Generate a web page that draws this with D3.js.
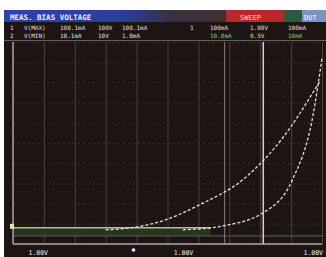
<!DOCTYPE html>
<html>
<head>
<meta charset="utf-8">
<script src="https://cdn.jsdelivr.net/npm/d3@7"></script>
<style>
  body { margin: 0; background: #fff; }
  svg { display: block; font-family: "DejaVu Sans Mono", monospace; }
</style>
</head>
<body>
<div id="chart"></div>
<script>
// curve data (volts vs mA)
const curveA_v = [3.0, 3.8, 4.85, 6.05, 7.45, 8.65, 9.95];
const curveA_i = [7.0, 8.0, 11.5, 19.5, 32, 51, 81];
const curveB_v = [5.5, 6.8, 8.1, 9.05, 9.7, 10.0];
const curveB_i = [7.0, 9.0, 15.5, 32, 63, 92];
const bandV = [0, 6.4];
const bandI = [4, 8];
const cursorV = [6.85, 8.1];
const xTickLabels = ["1.00V", "1.00V", "1.00V"];
const xTickPos = [0.5, 5.2, 9.4];
const headerRow1 = ["1", "V(MAX)", "100.1mA", "100V", "100.1mA"];
const headerRow2 = ["2", "V(MIN)", "10.1mA", "10V", "1.0mA"];
const headerRight1 = ["1", "100mA", "1.00V", "100mA"];
const headerRight2 = ["", "10.0mA", "0.5V", "10mA"];

const width = 326, height = 257;
const margin = { top: 42, right: 4, bottom: 13, left: 13 };

const svg = d3.select("#chart").append("svg")
  .attr("width", width).attr("height", height);

// screen
svg.append("rect").attr("x", 4).attr("y", 10).attr("width", 322).attr("height", 247)
  .attr("fill", "#1d1513");

// title bar
const defs = svg.append("defs");
const g1 = defs.append("linearGradient").attr("id", "tb");
g1.append("stop").attr("offset", "0%").attr("stop-color", "#2c44a8");
g1.append("stop").attr("offset", "55%").attr("stop-color", "#2a3d96");
g1.append("stop").attr("offset", "75%").attr("stop-color", "#3a3040");
g1.append("stop").attr("offset", "100%").attr("stop-color", "#403030");
svg.append("rect").attr("x", 4).attr("y", 10).attr("width", 222).attr("height", 12).attr("fill", "url(#tb)");
svg.append("rect").attr("x", 226).attr("y", 10).attr("width", 58).attr("height", 12).attr("fill", "#b82828");
svg.append("rect").attr("x", 284).attr("y", 10).attr("width", 18).attr("height", 12).attr("fill", "#2c5a3c");
svg.append("rect").attr("x", 302).attr("y", 10).attr("width", 24).attr("height", 12).attr("fill", "#8090c0");
svg.append("text").attr("x", 10).attr("y", 19.5).attr("fill", "#e8ecff")
  .attr("font-size", 7.5).attr("font-weight", "bold").text("MEAS. BIAS VOLTAGE");
svg.append("text").attr("x", 240).attr("y", 19.5).attr("fill", "#ffd0d0")
  .attr("font-size", 7).text("SWEEP");
svg.append("text").attr("x", 304).attr("y", 19.5).attr("fill", "#fff")
  .attr("font-size", 7).text("DUT");

// readout rows
const rowX = [10, 24, 60, 98, 122];
[headerRow1, headerRow2].forEach((row, r) => {
  row.forEach((t, k) => svg.append("text").attr("x", rowX[k]).attr("y", 30 + r * 8)
    .attr("fill", "#e0e0e0").attr("font-size", 6).text(t));
});
const rowXR = [190, 210, 250, 288];
const colR = ["#d0d0d0", "#7fd08a", "#e8e060", "#7fd08a"];
[headerRight1, headerRight2].forEach((row, r) => {
  row.forEach((t, k) => svg.append("text").attr("x", rowXR[k]).attr("y", 30 + r * 8)
    .attr("fill", r === 0 ? "#e0e0e0" : colR[k]).attr("font-size", 6).text(t));
});
svg.append("line").attr("x1", 4).attr("x2", 326).attr("y1", 40.5).attr("y2", 40.5)
  .attr("stroke", "#6a6060").attr("stroke-width", 1);

const x = d3.scaleLinear().domain([0, 10]).range([margin.left, width - margin.right]);
const y = d3.scaleLinear().domain([0, 100]).range([height - margin.bottom, margin.top]);

// grid
svg.append("g")
  .attr("transform", `translate(0,${height - margin.bottom})`)
  .call(d3.axisBottom(x).ticks(10).tickSize(-(height - margin.top - margin.bottom)).tickFormat(""))
  .call(g => g.select(".domain").remove())
  .call(g => g.selectAll("line").attr("stroke", "#4a403c").attr("stroke-width", 1));
svg.append("g")
  .attr("transform", `translate(${margin.left},0)`)
  .call(d3.axisLeft(y).ticks(8).tickSize(-(width - margin.left - margin.right)).tickFormat(""))
  .call(g => g.select(".domain").remove())
  .call(g => g.selectAll("line").attr("stroke", "#3a302c").attr("stroke-dasharray", "2,3"));

// band
svg.append("rect")
  .attr("x", x(bandV[0])).attr("y", y(bandI[1]))
  .attr("width", x(bandV[1]) - x(bandV[0])).attr("height", y(bandI[0]) - y(bandI[1]))
  .attr("fill", "#2a3224").attr("stroke", "none");
svg.append("line").attr("x1", x(bandV[0])).attr("x2", x(bandV[1]))
  .attr("y1", y(bandI[1])).attr("y2", y(bandI[1])).attr("stroke", "#b8c870").attr("stroke-width", 1.5);
svg.append("line").attr("x1", x(bandV[0])).attr("x2", x(10))
  .attr("y1", y(bandI[0])).attr("y2", y(bandI[0])).attr("stroke", "#5a6a50").attr("stroke-width", 1);

// cursors
cursorV.forEach((v, k) => svg.append("line")
  .attr("x1", x(v)).attr("x2", x(v)).attr("y1", y(100)).attr("y2", y(0))
  .attr("stroke", k === 1 ? "#d8d0cc" : "#8a807c").attr("stroke-width", k === 1 ? 1.5 : 1));

// axes
svg.append("line").attr("x1", x(0)).attr("x2", x(0)).attr("y1", y(100)).attr("y2", y(0))
  .attr("stroke", "#a8a0a0").attr("stroke-width", 1.5);
svg.append("line").attr("x1", x(0)).attr("x2", x(10)).attr("y1", y(0)).attr("y2", y(0))
  .attr("stroke", "#b0a8a8").attr("stroke-width", 1.5);

// curves
const line = d3.line().x(d => x(d[0])).y(d => y(d[1])).curve(d3.curveMonotoneX);
[[curveA_v, curveA_i], [curveB_v, curveB_i]].forEach(([vs, is]) => {
  svg.append("path")
    .datum(d3.zip(vs, is))
    .attr("fill", "none").attr("stroke", "#e8e2d8").attr("stroke-width", 1.3)
    .attr("stroke-dasharray", "3,2").attr("d", line);
});

// channel marker
svg.append("rect").attr("x", 10).attr("y", y(10)).attr("width", 4).attr("height", 5).attr("fill", "#e8e0a0");

// bottom labels
xTickLabels.forEach((t, k) => svg.append("text")
  .attr("x", x(xTickPos[k])).attr("y", 255).attr("fill", "#f0f0f0")
  .attr("font-size", 6.5).text(t));
svg.append("circle").attr("cx", x(3.9)).attr("cy", 250).attr("r", 1.8).attr("fill", "#fff");
</script>
</body>
</html>
